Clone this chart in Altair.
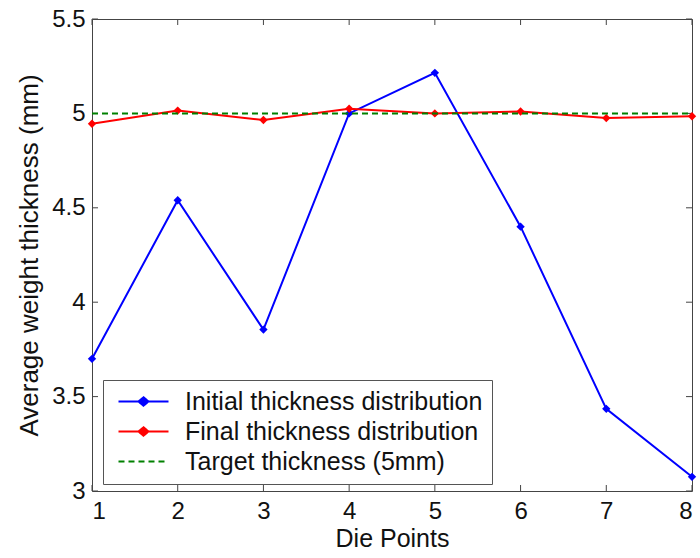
import altair as alt
import pandas as pd

# Die points along the profile and the measured wall thickness at each point (mm)
die_points = [1, 2, 3, 4, 5, 6, 7, 8]
initial_thickness = [3.70, 4.54, 3.855, 5.00, 5.215, 4.40, 3.435, 3.075]
final_thickness = [4.945, 5.015, 4.965, 5.025, 5.00, 5.01, 4.975, 4.985]
target_thickness = [5.0, 5.0, 5.0, 5.0, 5.0, 5.0, 5.0, 5.0]

series_names = [
    "Initial thickness distribution",
    "Final thickness distribution",
    "Target thickness (5mm)",
]
series_colors = ["#0000ff", "#ff0000", "#008000"]

x_ticks = [1, 2, 3, 4, 5, 6, 7, 8]
y_ticks = [3.0, 3.5, 4.0, 4.5, 5.0, 5.5]

FONT = "Liberation Sans"
W, H = 600, 472

rows = []
for name, values in zip(series_names, [initial_thickness, final_thickness, target_thickness]):
    for p, v in zip(die_points, values):
        rows.append({"series": name, "point": p, "thickness": v})
df = pd.DataFrame(rows)

x_scale = alt.Scale(domain=[1, 8], nice=False, zero=False)
y_scale = alt.Scale(domain=[3, 5.5], nice=False, zero=False)

# legend keys: a short line, with a marker in the middle for the measured series
line_marker_path = "M-2.5,0H2.5M-0.5,0L0,-0.42L0.5,0L0,0.42Z"
line_only_path = "M-2.5,0H2.5"

legend = alt.Legend(
    orient="none",
    legendX=11,
    legendY=361,
    title=None,
    labelFont=FONT,
    labelFontSize=25,
    labelColor="#111",
    labelLimit=800,
    labelOffset=29,
    symbolSize=400,
    symbolStrokeWidth=2,
    symbolOffset=19,
    symbolOpacity=1,
    padding=9,
    rowPadding=4,
    fillColor="white",
    strokeColor="#555",
)

color_scale = alt.Scale(domain=series_names, range=series_colors)
legend_enc = dict(
    color=alt.Color("series:N", scale=color_scale, legend=legend),
    stroke=alt.Stroke("series:N", scale=color_scale, legend=legend),
    shape=alt.Shape("series:N", scale=alt.Scale(domain=series_names,
                    range=[line_marker_path, line_marker_path, line_only_path]), legend=legend),
    strokeDash=alt.StrokeDash("series:N", scale=alt.Scale(domain=series_names,
                              range=[[1, 0], [1, 0], [6, 4]]), legend=legend),
)

x_axis = alt.Axis(
    values=x_ticks, format="d", title="Die Points", tickSize=0, domain=False, grid=False,
    labelPadding=8, titlePadding=3, titleFontSize=25,
)
y_axis = alt.Axis(
    values=y_ticks, format="~g", title="Average weight thickness (mm)", tickSize=0,
    domain=False, grid=False, labelPadding=7, titlePadding=9, titleFontSize=26,
)

base = alt.Chart(df)

# legend-only layer (no rows survive the filter, the keys come from the scale domains)
legend_layer = base.transform_filter("false").mark_point(filled=True, strokeWidth=2, opacity=1).encode(
    x=alt.X("point:Q", scale=x_scale, axis=x_axis),
    y=alt.Y("thickness:Q", scale=y_scale, axis=y_axis),
    **legend_enc,
)


def series_line(name, color, dash=None):
    kw = {"strokeWidth": 2, "color": color}
    if dash:
        kw["strokeDash"] = dash
    return base.transform_filter(alt.datum.series == name).mark_line(**kw).encode(
        x=alt.X("point:Q", scale=x_scale),
        y=alt.Y("thickness:Q", scale=y_scale),
    )


def series_points(name, color):
    return base.transform_filter(alt.datum.series == name).mark_point(
        shape="diamond", filled=True, size=70, opacity=1, color=color
    ).encode(
        x=alt.X("point:Q", scale=x_scale),
        y=alt.Y("thickness:Q", scale=y_scale),
    )


# inward tick marks on all four sides of the box
xt = alt.Chart(pd.DataFrame({"t": x_ticks}))
yt = alt.Chart(pd.DataFrame({"t": y_ticks}))
tick_style = {"color": "#444", "strokeWidth": 1}
ticks = [
    xt.mark_rule(**tick_style).encode(x=alt.X("t:Q", scale=x_scale), y=alt.value(H), y2=alt.value(H - 6)),
    xt.mark_rule(**tick_style).encode(x=alt.X("t:Q", scale=x_scale), y=alt.value(0), y2=alt.value(6)),
    yt.mark_rule(**tick_style).encode(y=alt.Y("t:Q", scale=y_scale), x=alt.value(0), x2=alt.value(6)),
    yt.mark_rule(**tick_style).encode(y=alt.Y("t:Q", scale=y_scale), x=alt.value(W), x2=alt.value(W - 6)),
]

chart = alt.layer(
    legend_layer,
    *ticks,
    series_line(series_names[0], series_colors[0]),
    series_points(series_names[0], series_colors[0]),
    series_line(series_names[1], series_colors[1]),
    series_points(series_names[1], series_colors[1]),
    series_line(series_names[2], series_colors[2], dash=[6, 4]),
).properties(
    width=W,
    height=H,
    autosize=alt.AutoSizeParams(type="none"),
    padding={"left": 92, "top": 19, "right": 8, "bottom": 67},
    background="white",
).configure_view(
    stroke="#444", strokeWidth=1
).configure_axis(
    labelFont=FONT, labelFontSize=24, labelColor="#111",
    titleFont=FONT, titleFontWeight="normal", titleColor="#111",
)

chart.save("out.html", embed_options={"renderer": "svg", "actions": False})
